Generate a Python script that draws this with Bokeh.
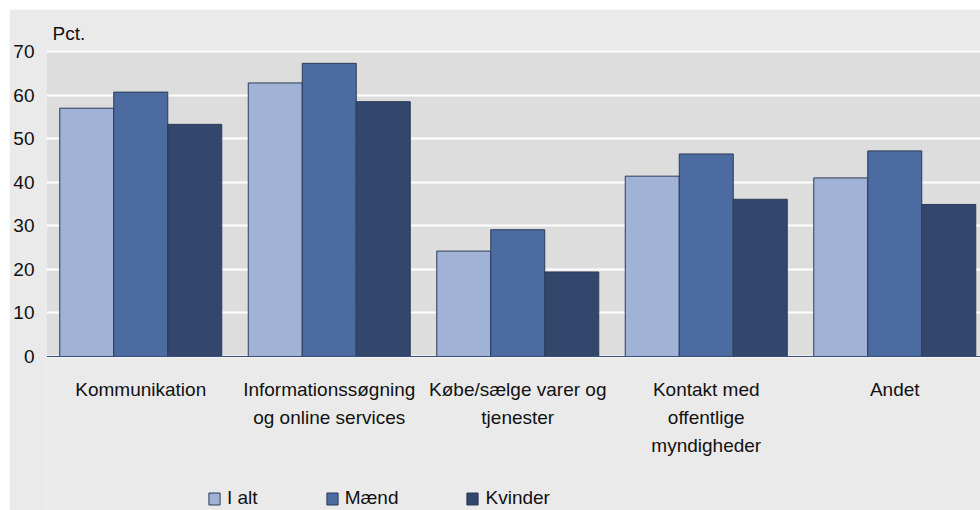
from bokeh.plotting import figure
from bokeh.models import (Range1d, FixedTicker, Legend, LegendItem,
                          ColumnDataSource, BoxAnnotation)
from bokeh.embed import file_html
from bokeh.resources import INLINE

categories = ["Kommunikation",
              "Informationssøgning\nog online services",
              "Købe/sælge varer og\ntjenester",
              "Kontakt med\noffentlige\nmyndigheder",
              "Andet"]
series_names = ["I alt", "Mænd", "Kvinder"]
i_alt = [57.0, 62.8, 24.2, 41.4, 41.0]
maend = [60.7, 67.3, 29.1, 46.5, 47.2]
kvinder = [53.3, 58.5, 19.4, 36.1, 34.9]
y_ticks = [0, 10, 20, 30, 40, 50, 60, 70]

colors = ["#A0B2D5", "#4B6BA1", "#33466C"]
FONT = "Liberation Sans"

slot_px = 188.5
frame_w = 934
bar_w = 54 / slot_px
px_per_unit = 306 / 70.25
below_units = 154 / px_per_unit

p = figure(width=971, height=501, output_backend="svg", toolbar_location=None,
           x_range=Range1d(0, frame_w / slot_px),
           y_range=Range1d(-below_units, 70.25),
           min_border_left=37, min_border_right=0, min_border_top=41,
           min_border_bottom=0, title="Pct.")
p.margin = (9, 0, 0, 9)

p.background_fill_color = "#EAEAEA"
p.border_fill_color = "#EAEAEA"
p.outline_line_color = None

p.add_layout(BoxAnnotation(bottom=0, top=70.25, fill_color="#DDDDDD",
                           fill_alpha=1, line_color=None, level="image"))

centers = [i + 0.5 for i in range(len(categories))]
renderers = []
for k, (name, vals) in enumerate(zip(series_names, [i_alt, maend, kvinder])):
    xs = [c + (k - 1) * bar_w for c in centers]
    src = ColumnDataSource(dict(x=xs, top=vals))
    r = p.vbar(x="x", top="top", bottom=0, width=bar_w, source=src,
               fill_color=colors[k], line_color="#2C3B58", line_width=1)
    renderers.append(r)

p.title.text_font = FONT
p.title.text_font_size = "19px"
p.title.text_font_style = "normal"
p.title.text_color = "#111111"
p.title.offset = 6
p.title.standoff = 13
p.title.align = "left"

p.xgrid.grid_line_color = None
p.ygrid.grid_line_color = "white"
p.ygrid.grid_line_width = 2
p.ygrid.ticker = FixedTicker(ticks=y_ticks)

p.yaxis.ticker = FixedTicker(ticks=y_ticks)
p.yaxis.axis_line_color = None
p.yaxis.major_tick_line_color = None
p.yaxis.minor_tick_line_color = None
p.yaxis.major_tick_out = 0
p.yaxis.major_tick_in = 0
p.yaxis.minor_tick_out = 0
p.yaxis.minor_tick_in = 0
p.yaxis.major_label_standoff = 12
p.yaxis.major_label_text_font = FONT
p.yaxis.major_label_text_font_size = "19px"
p.yaxis.major_label_text_color = "#111111"

p.xaxis.fixed_location = 0
p.xaxis.ticker = FixedTicker(ticks=centers)
p.xaxis.major_label_overrides = {c: lab for c, lab in zip(centers, categories)}
p.xaxis.axis_line_color = "#3A4F75"
p.xaxis.axis_line_width = 1
p.xaxis.major_tick_line_color = None
p.xaxis.minor_tick_line_color = None
p.xaxis.major_tick_out = 0
p.xaxis.major_tick_in = 0
p.xaxis.minor_tick_out = 0
p.xaxis.minor_tick_in = 0
p.xaxis.major_label_standoff = 22
p.xaxis.major_label_text_font = FONT
p.xaxis.major_label_text_font_size = "19px"
p.xaxis.major_label_text_color = "#111111"
p.xaxis.major_label_text_line_height = 1.35

legend = Legend(items=[LegendItem(label=n, renderers=[r]) for n, r in zip(series_names, renderers)],
                orientation="horizontal", location=(161, 1),
                glyph_width=14, glyph_height=15, label_height=15,
                label_standoff=6, spacing=67, padding=0, margin=0,
                background_fill_alpha=0, border_line_color=None,
                label_text_font=FONT, label_text_font_size="19px",
                label_text_color="#111111")
p.add_layout(legend, "center")

open("out.html", "w").write(file_html(p, INLINE))
